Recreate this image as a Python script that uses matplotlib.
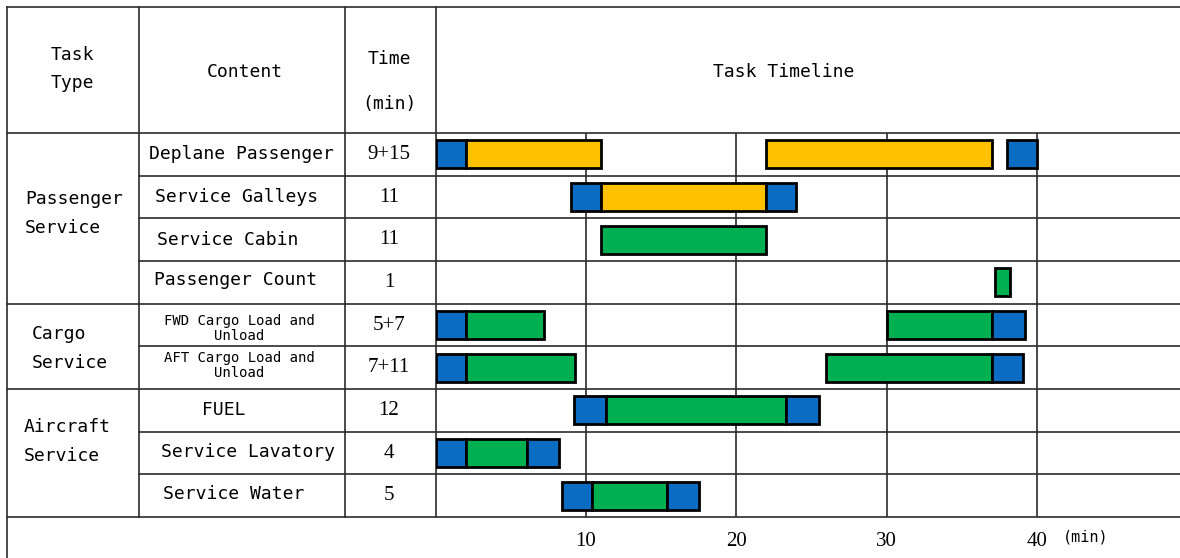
import matplotlib
matplotlib.use("Agg")
import matplotlib.pyplot as plt

# =====================================
# Data
# =====================================

group_names = ["Passenger\nService", "Cargo\nService", "Aircraft\nService"]
group_sizes = [4, 2, 3]

tasks = [
    "Deplane Passenger",
    "Service Galleys",
    "Service Cabin",
    "Passenger Count",
    "FWD Cargo Load and\nUnload",
    "AFT Cargo Load and\nUnload",
    "FUEL",
    "Service Lavatory",
    "Service Water",
]
times = ["9+15", "11", "11", "1", "5+7", "7+11", "12", "4", "5"]

# segments per task: (start, end, kind)  B = blue, Y = yellow, G = green
deplane = [(0, 2, "B"), (2, 11, "Y"), (22, 37, "Y"), (38, 40, "B")]
galleys = [(9, 11, "B"), (11, 22, "Y"), (22, 24, "B")]
cabin = [(11, 22, "G")]
count = [(37.2, 38.2, "G")]
fwd_cargo = [(0, 2, "B"), (2, 7.2, "G"), (30, 37, "G"), (37, 39.2, "B")]
aft_cargo = [(0, 2, "B"), (2, 9.3, "G"), (26, 37, "G"), (37, 39.1, "B")]
fuel = [(9.2, 11.3, "B"), (11.3, 23.3, "G"), (23.3, 25.5, "B")]
lavatory = [(0, 2, "B"), (2, 6.1, "G"), (6.1, 8.2, "B")]
water = [(8.4, 10.4, "B"), (10.4, 15.4, "G"), (15.4, 17.5, "B")]

segments = [deplane, galleys, cabin, count, fwd_cargo, aft_cargo, fuel, lavatory, water]

tick_values = [10, 20, 30, 40]

colors = {"B": "#0A6CC2", "Y": "#FFC000", "G": "#00AF50"}

# =====================================
# Fonts
# =====================================

MONO = ["DejaVu Sans Mono"]
MONO_SIZE = 13
SMALL_SIZE = 10
SERIF = ["Liberation Serif", "DejaVu Serif"]

# =====================================
# Layout (pixels)
# =====================================

W, H = 1180, 558
TOP = 6.5
LEFT = 7
COL1 = 139
COL2 = 345
COL3 = 435.7
HEAD_BOT = 133
TABLE_BOT = 517
PX_PER_MIN = 15.03
n_rows = len(tasks)
row_h = (TABLE_BOT - HEAD_BOT) / n_rows

fig = plt.figure(figsize=(W / 100, H / 100), dpi=100)

# table frame
frame = fig.add_axes([0, 0, 1, 1], zorder=0)
frame.set_xlim(0, W)
frame.set_ylim(H, 0)
frame.axis("off")

LC = "#2b2b2b"
LW = 1.2
frame.plot([LEFT, W], [TOP, TOP], color=LC, lw=LW)
frame.plot([LEFT, LEFT], [TOP, H], color=LC, lw=LW)
for x in [COL1, COL2, COL3]:
    frame.plot([x, x], [TOP, TABLE_BOT], color=LC, lw=LW)

group_start = [0]
for s in group_sizes[:-1]:
    group_start.append(group_start[-1] + s)

for i in range(n_rows + 1):
    y = HEAD_BOT + i * row_h
    x0 = LEFT if (i in group_start or i == n_rows) else COL1
    frame.plot([x0, W], [y, y], color=LC, lw=LW)

# header
frame.text(72, 69, "Task\nType", ha="center", va="center", fontsize=MONO_SIZE,
           family=MONO, linespacing=1.75)
frame.text(245, 72, "Content", ha="center", va="center", fontsize=MONO_SIZE, family=MONO)
frame.text(389, 59, "Time", ha="center", va="center", fontsize=MONO_SIZE, family=MONO)
frame.text(389, 104, "(min)", ha="center", va="center", fontsize=MONO_SIZE, family=MONO)
frame.text(784, 72, "Task Timeline", ha="center", va="center", fontsize=MONO_SIZE, family=MONO)

# group labels
group_x = [25, 32, 24]
group_y = [213.5, 348.5, 441.5]
for name, gx, gy in zip(group_names, group_x, group_y):
    frame.text(gx, gy, name, ha="left", va="center", fontsize=MONO_SIZE,
               family=MONO, linespacing=1.75)

# task names and times
task_x = [241, 237, 228, 236, 239, 239, 224, 248, 234]
task_dy = [0, 0, 0, -2, 3.5, -2.5, 0, -1, -2]
for i, (name, t) in enumerate(zip(tasks, times)):
    yc = HEAD_BOT + (i + 0.5) * row_h
    if "\n" in name:
        frame.text(task_x[i], yc + task_dy[i], name, ha="center", va="center",
                   fontsize=SMALL_SIZE, family=MONO, linespacing=1.08)
    else:
        frame.text(task_x[i], yc + task_dy[i], name, ha="center", va="center",
                   fontsize=MONO_SIZE, family=MONO)
    frame.text(389, yc, t, ha="center", va="center", fontsize=15, family=SERIF)

frame.text(1086, 537, "(min)", ha="center", va="center", fontsize=11, family=MONO)

# =====================================
# Timeline
# =====================================

ax = fig.add_axes([COL3 / W, (H - TABLE_BOT) / H, (W - COL3) / W,
                   (TABLE_BOT - HEAD_BOT) / H], zorder=1)
ax.patch.set_alpha(0)
ax.set_xlim(0, (W - COL3) / PX_PER_MIN)
ax.set_ylim(n_rows, 0)

for i, segs in enumerate(segments):
    for start, end, kind in segs:
        ax.barh(i + 0.5, end - start, left=start, height=0.66,
                color=colors[kind], edgecolor="black", linewidth=2, zorder=3)

ax.set_xticks(tick_values)
ax.set_xticklabels([str(v) for v in tick_values], family=SERIF, fontsize=15)
ax.tick_params(axis="x", length=0, pad=11)
ax.set_yticks([])
ax.grid(axis="x", color=LC, lw=LW)
ax.set_axisbelow(True)
for sp in ax.spines.values():
    sp.set_visible(False)

fig.savefig("out.png", dpi=100)
